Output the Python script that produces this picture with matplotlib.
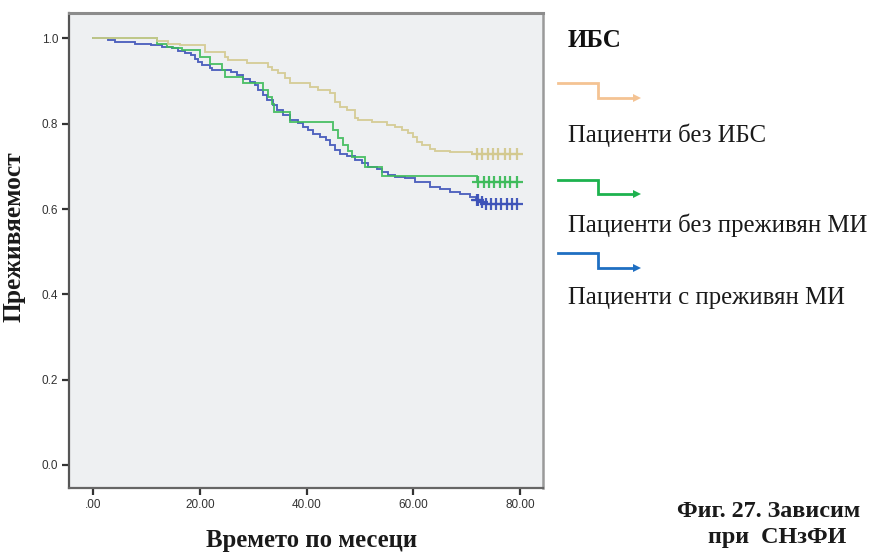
import numpy as np
import matplotlib
matplotlib.use("Agg")
import matplotlib.pyplot as plt
from matplotlib.lines import Line2D

# Kaplan-Meier survival estimates: event times (months) and survival after each step
time_no_ihd = [0, 11.9, 14.0, 14.9, 16.2, 20.9, 24.7, 25.2, 28.8, 32.7, 33.5, 34.6, 35.9,
               36.9, 40.6, 42.1, 44.4, 45.3, 46.2, 47.5, 49.1, 49.6, 52.2, 55.0, 56.6,
               57.8, 59.0, 59.9, 60.6, 61.6, 63.1, 64.1, 66.9, 70.9]
surv_no_ihd = [1.0, 0.994, 0.988, 0.986, 0.984, 0.969, 0.957, 0.949, 0.943, 0.933, 0.926,
               0.918, 0.907, 0.895, 0.887, 0.879, 0.872, 0.851, 0.840, 0.832, 0.813, 0.809,
               0.805, 0.797, 0.792, 0.785, 0.778, 0.769, 0.758, 0.750, 0.742, 0.737, 0.733,
               0.730]
cens_no_ihd = [71.9, 72.8, 74.0, 75.0, 75.9, 77.2, 78.1, 79.4]

time_no_mi = [0, 11.9, 13.8, 14.9, 16.6, 20.0, 21.9, 24.1, 24.7, 28.1, 31.8, 32.7, 33.5,
              33.9, 36.9, 44.9, 45.9, 46.8, 47.7, 48.5, 50.9, 54.1, 71.9]
surv_no_mi = [1.0, 0.987, 0.980, 0.977, 0.973, 0.957, 0.941, 0.926, 0.910, 0.896, 0.879,
              0.862, 0.846, 0.828, 0.805, 0.785, 0.766, 0.750, 0.735, 0.722, 0.699, 0.678,
              0.663]
cens_no_mi = [72.2, 73.2, 74.2, 75.2, 76.2, 77.2, 78.2, 79.4]

time_mi = [0, 2.8, 4.1, 7.8, 10.9, 12.8, 14.7, 15.9, 17.2, 18.4, 19.1, 19.7, 20.3, 21.9,
           22.2, 25.9, 26.9, 28.1, 29.4, 30.3, 30.9, 31.8, 32.5, 33.7, 34.4, 35.6, 36.9,
           38.4, 39.3, 40.2, 41.2, 42.5, 43.7, 44.4, 45.3, 46.2, 47.5, 49.0, 50.3, 51.5,
           53.1, 54.1, 55.2, 56.5, 58.4, 60.3, 63.1, 65.0, 66.9, 68.7, 70.6, 71.7, 72.5,
           73.2]
surv_mi = [1.0, 0.996, 0.992, 0.988, 0.984, 0.980, 0.977, 0.971, 0.965, 0.961, 0.953,
           0.945, 0.937, 0.930, 0.926, 0.922, 0.914, 0.906, 0.898, 0.890, 0.879, 0.867,
           0.855, 0.843, 0.832, 0.820, 0.809, 0.801, 0.793, 0.785, 0.777, 0.769, 0.762,
           0.750, 0.738, 0.730, 0.724, 0.715, 0.707, 0.699, 0.695, 0.687, 0.680, 0.676,
           0.672, 0.664, 0.652, 0.646, 0.640, 0.635, 0.629, 0.622, 0.617, 0.612]
cens_mi = [71.9, 72.2, 72.8, 73.6, 74.5, 75.5, 76.5, 77.5, 78.5, 79.4]

group_title = "ИБС"
group_labels = ["Пациенти без ИБС", "Пациенти без преживян МИ", "Пациенти с преживян МИ"]
x_ticks = [0, 20, 40, 60, 80]
x_ticklabels = [".00", "20.00", "40.00", "60.00", "80.00"]
y_ticks = [0.0, 0.2, 0.4, 0.6, 0.8, 1.0]
y_ticklabels = ["0.0", "0.2", "0.4", "0.6", "0.8", "1.0"]
x_title = "Времето по месеци"
y_title = "Преживяемост"
caption_1 = "Фиг. 27. Зависим"
caption_2 = "при  СНзФИ"

curve_colors = ["#d3c98f", "#3dbb5a", "#3d52b8"]
legend_colors = ["#f4c393", "#1db24e", "#1f6fc2"]

W, H = 869, 553
fig = plt.figure(figsize=(W / 100, H / 100), dpi=100)
fig.patch.set_facecolor("white")

ax = fig.add_axes([69.3 / W, 1 - 488 / H, (543 - 69.3) / W, (488 - 13.3) / H])
ax.set_facecolor("#eef0f2")
ax.set_xlim(-4.5, 84.3)
ax.set_ylim(-0.054, 1.059)


def survival_at(times, surv, t):
    idx = np.searchsorted(np.asarray(times), t, side="right") - 1
    return np.asarray(surv)[idx]


series = [
    (time_no_ihd, surv_no_ihd, cens_no_ihd, curve_colors[0], 4),
    (time_mi, surv_mi, cens_mi, curve_colors[2], 2),
    (time_no_mi, surv_no_mi, cens_no_mi, curve_colors[1], 3),
]
for times, surv, cens, color, z in series:
    t_end = max(cens)
    xs = list(times) + [t_end]
    ys = list(surv) + [surv[-1]]
    ax.step(xs, ys, where="post", color=color, lw=1.35, alpha=0.9,
            solid_joinstyle="miter", zorder=z)
    ax.plot(cens, survival_at(times, surv, np.asarray(cens)), linestyle="none",
            marker="+", markersize=8, mew=1.6, color=color, alpha=0.95, zorder=z)

tick_font = dict(family=["Liberation Sans Narrow", "Liberation Sans", "DejaVu Sans"],
                 size=8.5, color="#333333")
ax.set_xticks(x_ticks)
ax.set_xticklabels(x_ticklabels, **tick_font)
ax.set_yticks(y_ticks)
ax.set_yticklabels(y_ticklabels, **tick_font)
ax.tick_params(axis="both", direction="out", length=5, width=1.6, color="#333333", pad=3)
ax.tick_params(top=False, right=False)

ax.spines["left"].set_color("#555555")
ax.spines["left"].set_linewidth(1.6)
ax.spines["bottom"].set_color("#666666")
ax.spines["bottom"].set_linewidth(1.6)
ax.spines["top"].set_color("#8c8c8c")
ax.spines["top"].set_linewidth(2.2)
ax.spines["right"].set_color("#9a9a9a")
ax.spines["right"].set_linewidth(1.8)

serif = ["Liberation Serif", "DejaVu Serif"]
fig.text(312 / W, 1 - 541 / H, x_title, family=serif, weight="bold", size=17.8,
         ha="center", va="center", color="#1a1a1a")
fig.text(14 / W, 1 - 237 / H, y_title, family=serif, weight="bold", size=18.4,
         rotation=90, ha="center", va="center", color="#1a1a1a")

# Group key drawn to the right of the plot
fig.text(568 / W, 1 - 40.5 / H, group_title, family=serif, weight="bold", size=18,
         ha="left", va="center", color="#111111")
glyph_tops = [83.3, 180.0, 253.3]
label_centers = [135.0, 225.0, 298.0]
for label, color, gy, ly in zip(group_labels, legend_colors, glyph_tops, label_centers):
    drop = 14.5
    px = [558, 598, 598, 632]
    py = [gy, gy, gy + drop, gy + drop]
    fig.add_artist(Line2D([p / W for p in px], [1 - q / H for q in py],
                          color=color, lw=2.0, solid_joinstyle="miter",
                          transform=fig.transFigure))
    fig.add_artist(Line2D([637 / W], [1 - (gy + drop) / H], marker=">", markersize=5.5,
                          color=color, mew=0, linestyle="none",
                          transform=fig.transFigure))
    fig.text(568 / W, 1 - ly / H, label, family=serif, size=17.8,
             ha="left", va="center", color="#1a1a1a")

fig.text(677 / W, 1 - 517 / H, caption_1, family=serif, weight="bold", size=17.4,
         ha="left", va="baseline", color="#1a1a1a")
fig.text(708 / W, 1 - 543 / H, caption_2, family=serif, weight="bold", size=17.4,
         ha="left", va="baseline", color="#1a1a1a")

fig.savefig("out.png", dpi=100)
